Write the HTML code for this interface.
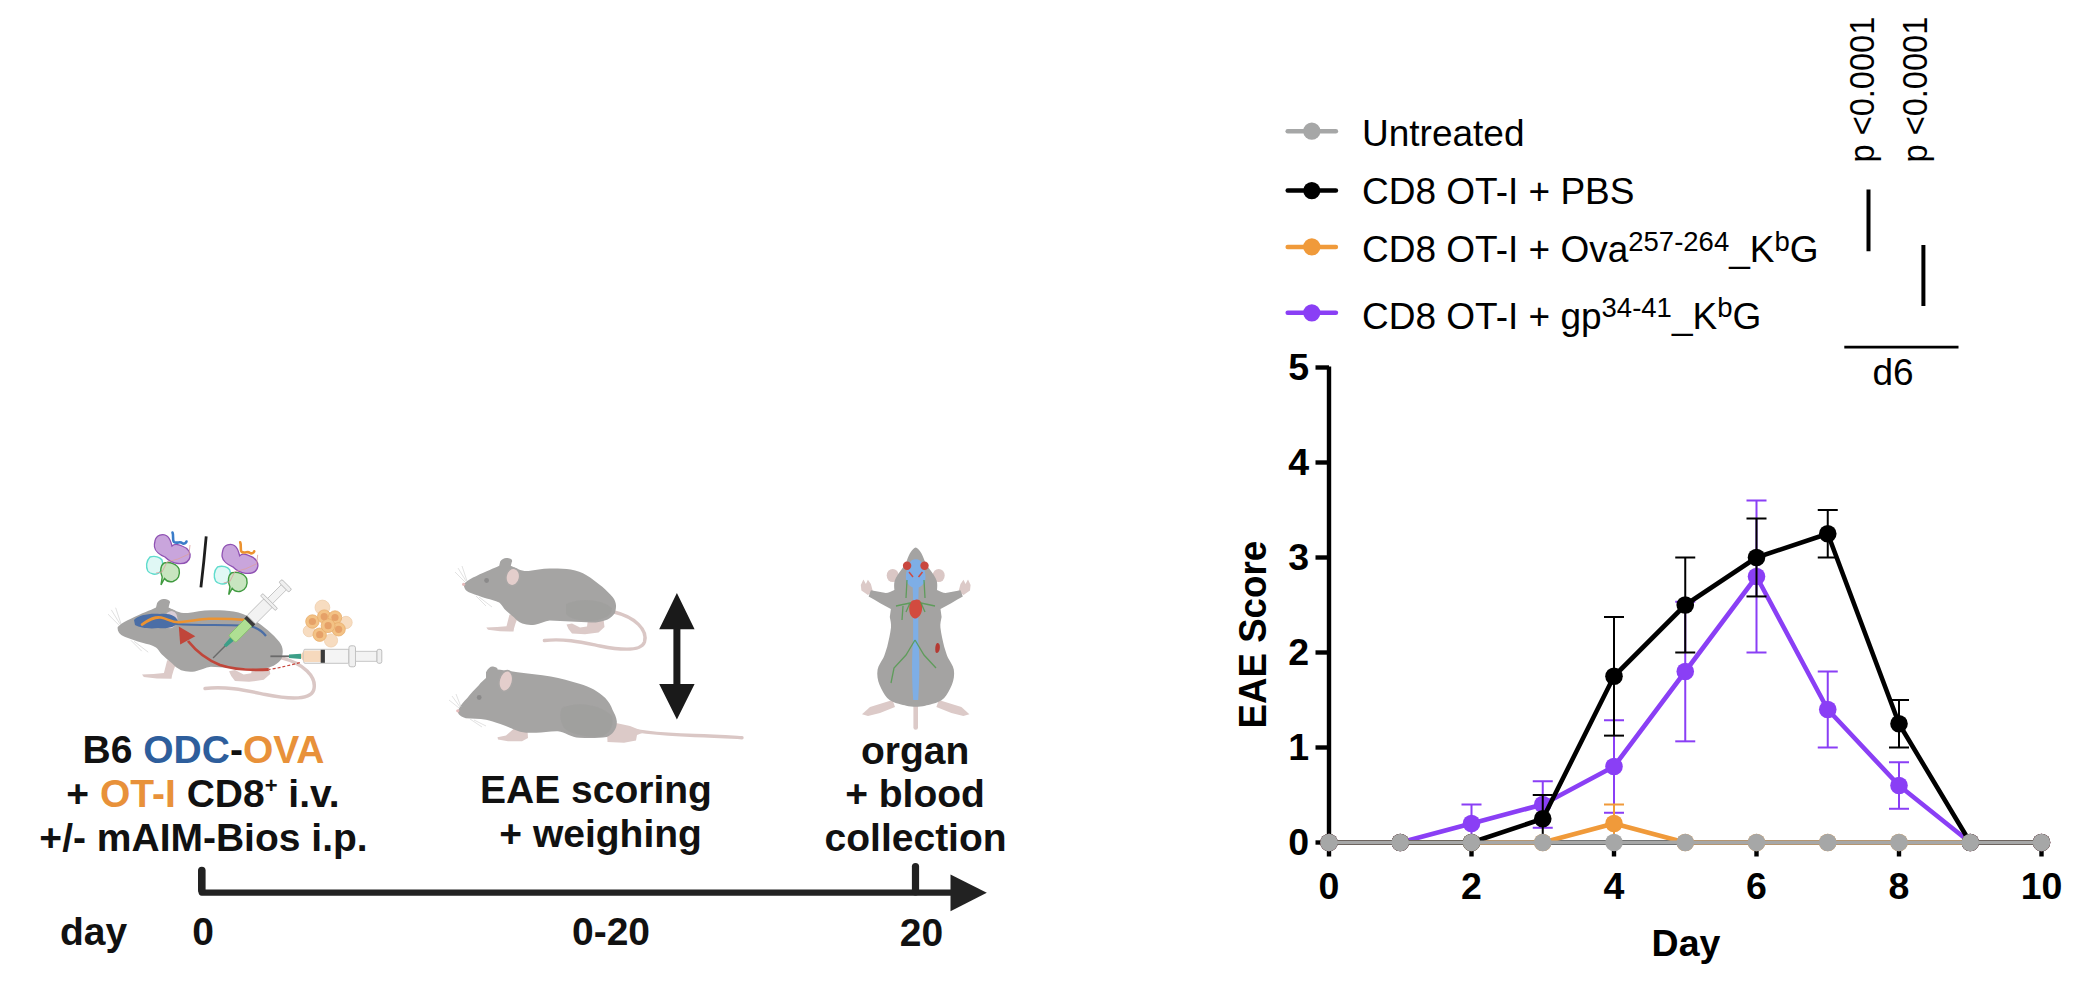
<!DOCTYPE html>
<html lang="en"><head><meta charset="utf-8"><title>EAE score figure</title>
<style>
html,body{margin:0;padding:0;background:#fff;width:2086px;height:998px;overflow:hidden}
svg{display:block}
text{font-family:"Liberation Sans",Arial,Helvetica,sans-serif}
.tb{font-weight:bold;font-size:37.5px;fill:#000}
.lg{font-size:37px;fill:#000}
.lb{font-weight:bold;font-size:39px;fill:#111}
.sig{font-size:32.6px;fill:#000}
</style></head><body>
<svg width="2086" height="998" viewBox="0 0 2086 998">
<rect width="2086" height="998" fill="#fff"/>

<!-- ================= LEFT: experimental timeline ================= -->
<g id="timeline">
<!-- mouse A (middle top) -->
<g id="mouseA">
<path d="M614,612 C635,617 648,630 644.5,642 C641,652 620,650 600,646 C585,643 565,638 544.4,640.5" stroke="#dac7c5" stroke-width="3.4" fill="none" stroke-linecap="round"/>
<path d="M509.5,614.5 L518.5,615.5 L515.5,623.5 L514,628.5 L513.5,631.5 L500,631.3 L488,629.8 L486.3,627.6 L497,627 L506.5,626.3 Z" fill="#dccac8"/>
<path d="M588,619 L603.5,619 L604.5,627 L598.5,632.5 L585,634.3 L572,633.5 L568.5,629 L566.5,624.5 L572,623.5 L580,627.5 L587,626.5 Z" fill="#dccac8"/>
<path d="M463.9,583.7 C468,580 472,578 476,576.3 C481,573.5 486,571.5 489.7,570 C493,568.5 497,567 499.2,565.8 L500.2,561.6 C502,558.5 505,557.5 507.5,558 C511,558.5 513,560 511.8,562 L510.8,565.8 C514,567.5 517,569 520.2,570 C523,571 526,571 528.6,571 C535,570 542,568.5 549.7,568.4 C557,568.3 565,568.5 570.7,569.5 C577,570.5 582,572.5 586.5,575.2 C592,578.5 597,582.5 602.3,586.8 C606.5,590.5 610,594 612.8,597.3 C615,600 616.2,603.5 616,606.8 C615.8,609.5 615.4,611.5 614.9,613.1 C613,616 610.5,618 607.6,619.4 C603,621.5 597,622.5 591.8,622.6 L570.7,621.5 L549.7,620.5 C545,621 540,624 535,624.7 C530,625.3 526,624.8 522.3,623.6 C518.5,622 516,619.5 513.9,617.3 C510,614 507,611.5 504.4,608.9 C502.5,606.5 501,604 499.2,602.6 C495,600.5 491,599.5 486.6,598.4 C481,597 476,595 470.8,593.1 C468,592 466,590.5 465,588.9 C464,587 463.6,585.5 463.9,583.7 Z" fill="#a5a4a3"/>
<path d="M566,604 C582,597 602,600 612,608 C612,615 606,619 592,621 C580,621 570,619 566,614 Z" fill="#9c9b9a" opacity="0.45"/>
<ellipse cx="512.8" cy="577" rx="6.8" ry="8.8" transform="rotate(12 512.8 577)" fill="#e4cecc" stroke="#a8a6a5" stroke-width="1.6"/>
<circle cx="486.6" cy="580.5" r="2.4" fill="#8b8a8a"/>
<circle cx="463.6" cy="584.3" r="1.6" fill="#e3b9b9"/>
<path d="M465,582 L455,572 M466,581 L458,568 M467,581 L462,566 M476,596 L486,606 M479,597 L492,607" stroke="#d6d6d6" stroke-width="0.7" fill="none"/>

</g>

<!-- mouse B (middle bottom) -->
<g id="mouseB">
<path d="M615,726 C630,731 650,734 694.5,735.5 C715,736 730,737 742,737.7" stroke="#dac7c5" stroke-width="3.4" fill="none" stroke-linecap="round"/>
<path d="M607,731 L616,723 L630,726 L645,732 L637,735 L636,740.5 L624,742.7 L607.5,742 Z" fill="#dccac8"/>
<path d="M514,728.5 L527.5,730.5 L528,738 L522,741.3 L508,741.3 L498,739.5 L497.5,737.3 L506,735.5 Z" fill="#dccac8"/>
<path d="M457.9,710.4 C461,705 464,701 467.3,698.1 C471,693 475,689 478.8,685.2 C481,682 484,680 486,678 L486,672.3 C488,668 491,666 493.1,666.5 C496,667 498,668 497.5,669.4 C503,670 510,671 517.6,672.3 C528,673.5 540,675 550.7,676.6 C561,678.5 570,681 579.4,683.8 C585,685.5 590,687.5 593.8,689.5 C598,692 602,695 605.3,698.1 C608.5,701.5 611,705.5 612.5,709.7 C614.5,713.5 616.5,717.5 616.8,721.2 C617,725 616,728.5 614,731.2 C612,734 609.5,736 606.8,737 C598,738.2 588,738 579.4,737.7 C571,737.3 565,732 557.9,731.2 C550,731 543,732.5 536.3,732.7 L526.2,732.7 C522,732.5 518,731.2 514.7,729.8 C509,727.5 505,725.5 500.3,724 C495,722 490,720.5 486,719.7 C479,718.5 472,718.8 465.8,718.3 C462,717 459.5,715.5 458.6,714 C458,712.5 457.8,711.5 457.9,710.4 Z" fill="#a5a4a3"/>
<path d="M562,708 C580,700 602,706 612,716 C614,726 610,734 600,737 C585,737 570,734 564,728 C560,721 559,713 562,708 Z" fill="#9c9b9a" opacity="0.45"/>
<ellipse cx="505.8" cy="681" rx="6.6" ry="10.5" transform="rotate(14 505.8 681)" fill="#e4cecc" stroke="#a8a6a5" stroke-width="1.6"/>
<circle cx="479.2" cy="697.5" r="2.4" fill="#8b8a8a"/>
<circle cx="457.8" cy="710.8" r="1.6" fill="#e3b9b9"/>
<path d="M459,708 L449,700 M460,707 L452,696 M461,707 L456,694 M470,719 L482,727 M474,720 L486,726" stroke="#d6d6d6" stroke-width="0.7" fill="none"/>

</g>

<!-- double arrow -->
<path d="M676.9,593 L694.6,629.2 L680.4,629.2 L680.4,684 L694.6,684 L676.9,719.5 L659.2,684 L673.4,684 L673.4,629.2 L659.2,629.2 Z" fill="#1a1a1a"/>

<!-- mouse C (top view) -->
<g id="mouseC">
<path d="M915.7,705 V727.5" stroke="#dccac8" stroke-width="4.6" stroke-linecap="round"/>
<path d="M892.6,700 L870,707 L862,714.3 L868,716 L880,713 L895,707 Z" fill="#dccac8"/>
<path d="M938.8,700 L961.4,707 L969.4,714.3 L963.4,716 L951.4,713 L936.4,707 Z" fill="#dccac8"/>
<path d="M958.5,591.5 L960.5,584 L963.5,579.8 L965.5,584 L968,579.5 L970.6,585 L970,590.5 L963.5,595 Z" fill="#dccac8"/>
<path d="M872.9,591.5 L870.9,584 L867.9,579.8 L865.9,584 L863.4,579.5 L860.8,585 L861.4,590.5 L867.9,595 Z" fill="#dccac8"/>
<ellipse cx="892.7" cy="575.5" rx="6" ry="6.6" fill="#dac7c5"/>
<ellipse cx="938.7" cy="575.5" rx="6" ry="6.6" fill="#dac7c5"/>
<path d="M915.7,547.4C919.0,548.5 922.0,553.0 924.7,561.0C926.5,565.0 928.0,567.0 929.5,569.0C932.5,573.0 935.5,577.0 936.8,581.0C937.5,584.0 937.3,587.0 937.0,590.0C940.0,591.5 943.0,592.7 945.6,593.1L960.5,590.3L962.8,596.6C955.0,601.0 947.0,606.0 940.5,609.1C940.8,612.0 941.3,614.5 941.6,617.0C941.0,620.0 940.0,624.0 940.4,627.6C941.2,634.0 942.7,641.0 944.2,646.7C945.7,651.0 946.7,655.0 948.1,658.1C950.2,662.0 953.0,665.5 953.8,669.5C954.7,675.0 953.7,680.0 951.9,684.8C949.7,690.0 947.2,694.5 944.2,698.1C940.7,701.5 936.7,703.0 932.8,703.8C929.2,704.8 927.2,705.2 925.2,705.7C922.2,706.3 918.7,706.7 915.7,706.7C912.7,706.7 909.2,706.3 906.2,705.7C904.2,705.2 902.2,704.8 898.6,703.8C894.7,703.0 890.7,701.5 887.2,698.1C884.2,694.5 881.7,690.0 879.5,684.8C877.7,680.0 876.7,675.0 877.6,669.5C878.4,665.5 881.2,662.0 883.3,658.1C884.7,655.0 885.7,651.0 887.2,646.7C888.7,641.0 890.2,634.0 891.0,627.6C891.4,624.0 890.4,620.0 889.8,617.0C890.1,614.5 890.6,612.0 890.9,609.1C884.4,606.0 876.4,601.0 868.6,596.6L870.9,590.3L885.8,593.1C888.4,592.7 891.4,591.5 894.4,590.0C894.1,587.0 893.9,584.0 894.6,581.0C895.9,577.0 898.9,573.0 901.9,569.0C903.4,567.0 904.9,565.0 906.7,561.0C909.4,553.0 912.4,548.5 915.7,547.4Z" fill="#a4a3a2"/>
<path d="M911,561 C913,558.5 918.5,558.5 920.5,561 C923,565 925.5,571 925.5,577 C925.5,582 923,585.5 918.7,587.5 L918.3,600 L918.3,640 C919.6,655 919.8,675 918.2,700 L913.2,700 C911.6,675 911.8,655 913.1,640 L913.1,600 L912.7,587.5 C908.4,585.5 905.9,582 905.9,577 C905.9,571 908.4,565 911,561 Z" fill="#7eaee6"/>
<circle cx="907.1" cy="565.8" r="4.2" fill="#c9473e"/>
<circle cx="924.5" cy="565.8" r="4.2" fill="#c9473e"/>
<path d="M909,572 L913,577 M922.5,572 L918.5,577" stroke="#cf4a40" stroke-width="1.5"/>
<path d="M915,600 C920,598 923,603 922,610 C921,616 917,619 914.5,618.5 C910,617 908.5,611 909.5,605 C910.5,601.5 912,600 915,600 Z" fill="#d24b3f"/>
<path d="M937,643 C939.5,642.5 940.5,646 939.5,650 C938.5,653 936.5,654 935.5,652 C935,649 935,645 937,643 Z" fill="#b53a33"/>
<path d="M907,580 L906,598 M924,580 L925,598 M896,606 L910,603 L906,612 M935,606 L921,603 L925,612 M915,640 L906,655 L894,668 L891,683 M915,640 L924,655 L936,668 M903,606 L902,620" stroke="#4d9a4a" stroke-width="1.3" fill="none" opacity="0.8"/>
</g>

<!-- mouse 1 (left, injected) : same outline as mouse A scaled -->
<g id="mouse1">
<g transform="translate(117.7,626.9) scale(1.085) translate(-463.9,-583.7)">
<path d="M614,612 C635,617 648,630 644.5,642 C641,652 620,650 600,646 C585,643 565,638 544.4,640.5" stroke="#dac7c5" stroke-width="3.2" fill="none" stroke-linecap="round"/>
<path d="M509.5,614.5 L518.5,615.5 L515.5,623.5 L514,628.5 L513.5,631.5 L500,631.3 L488,629.8 L486.3,627.6 L497,627 L506.5,626.3 Z" fill="#dccac8"/>
<path d="M588,619 L603.5,619 L604.5,627 L598.5,632.5 L585,634.3 L572,633.5 L568.5,629 L566.5,624.5 L572,623.5 L580,627.5 L587,626.5 Z" fill="#dccac8"/>
<path d="M463.9,583.7 C468,580 472,578 476,576.3 C481,573.5 486,571.5 489.7,570 C493,568.5 497,567 499.2,565.8 L500.2,561.6 C502,558.5 505,557.5 507.5,558 C511,558.5 513,560 511.8,562 L510.8,565.8 C514,567.5 517,569 520.2,570 C523,571 526,571 528.6,571 C535,570 542,568.5 549.7,568.4 C557,568.3 565,568.5 570.7,569.5 C577,570.5 582,572.5 586.5,575.2 C592,578.5 597,582.5 602.3,586.8 C606.5,590.5 610,594 612.8,597.3 C615,600 616.2,603.5 616,606.8 C615.8,609.5 615.4,611.5 614.9,613.1 C613,616 610.5,618 607.6,619.4 C603,621.5 597,622.5 591.8,622.6 L570.7,621.5 L549.7,620.5 C545,621 540,624 535,624.7 C530,625.3 526,624.8 522.3,623.6 C518.5,622 516,619.5 513.9,617.3 C510,614 507,611.5 504.4,608.9 C502.5,606.5 501,604 499.2,602.6 C495,600.5 491,599.5 486.6,598.4 C481,597 476,595 470.8,593.1 C468,592 466,590.5 465,588.9 C464,587 463.6,585.5 463.9,583.7 Z" fill="#a5a4a3"/>
<ellipse cx="512.8" cy="577" rx="6.8" ry="8.8" transform="rotate(12 512.8 577)" fill="#d9cdd6" stroke="#a8a6a5" stroke-width="1.6"/>
<path d="M465,582 L455,572 M466,581 L458,568 M467,581 L462,566 M476,596 L486,606 M479,597 L492,607" stroke="#d6d6d6" stroke-width="0.7" fill="none"/>

</g>
<!-- brain & spinal cord -->
<path d="M134,620 C138,615 150,613 160,614 C170,613 177,616 178,622 C176,627 168,629 158,628 C150,629 140,628 135,625 Z" fill="#4b6ea6"/>
<path d="M176,624 C200,626 230,624 250,626 C258,628 263,632 266,636" stroke="#4b6ea6" stroke-width="2.2" fill="none"/>
<path d="M142,624.6 C150,619 155,616.5 161,617.5 C168,619 172,622.5 179,622.3 C192,621 200,619 209,618.8 C222,618.5 235,619 246,620" stroke="#ec9331" stroke-width="2.6" fill="none" stroke-linecap="round"/>
<!-- red arrow -->
<path d="M299.8,662.6 C290,665 280,668 268.7,669.5" stroke="#c8463c" stroke-width="1.2" stroke-dasharray="3 2" fill="none"/>
<path d="M268.7,669.5 C250,670.5 232,669 220,665 C205,659 196,651 188,641" stroke="#c0463a" stroke-width="2.8" fill="none"/>
<path d="M178.8,626.4 L195.3,636.2 L180.2,644.6 Z" fill="#c0463a"/>
<!-- syringe 1 (diagonal) -->
<g transform="translate(213.1,658) rotate(-45)">
<path d="M0,0 H18" stroke="#6a6a6a" stroke-width="1.4"/>
<path d="M16.7,-1.6 L26.9,-2.4 L26.9,2.4 L16.7,1.6 Z" fill="#3c9f88"/>
<rect x="26.9" y="-5" width="24" height="10" rx="1.5" fill="#afdf93" stroke="#86c26c" stroke-width="0.9"/>
<rect x="50" y="-6" width="4" height="12" fill="#3a3a3a"/>
<rect x="54" y="-6" width="24" height="12" rx="1" fill="#f2f2f2" stroke="#bdbdbd" stroke-width="0.9"/>
<rect x="77.5" y="-10.5" width="3.2" height="21" rx="1.2" fill="#efefef" stroke="#b8b8b8" stroke-width="0.9"/>
<rect x="80.7" y="-3.6" width="19.5" height="7.2" fill="#f3f3f3" stroke="#c2c2c2" stroke-width="0.9"/>
<rect x="100" y="-7" width="4.2" height="14" rx="1.6" fill="#efefef" stroke="#b8b8b8" stroke-width="0.9"/>
</g>
<!-- syringe 2 (horizontal) -->
<g transform="translate(270.4,656.3)">
<path d="M0,0 H19" stroke="#6a6a6a" stroke-width="1.8"/>
<path d="M18.6,-1.8 L30.6,-2.6 L30.6,2.6 L18.6,1.8 Z" fill="#3c9f88"/>
<path d="M30.6,-1.5 L33.5,-5.7 L33.5,5.7 L30.6,1.5 Z" fill="#f1d2b4"/>
<rect x="33.5" y="-7" width="45" height="14" rx="1" fill="#f4f4f4" stroke="#bdbdbd" stroke-width="0.9"/>
<rect x="33.5" y="-5.7" width="17" height="11.4" fill="#f6d9bd"/>
<rect x="50.3" y="-6.5" width="4.2" height="13" fill="#3a3a3a"/>
<rect x="78.5" y="-10.5" width="6.6" height="21" rx="2" fill="#f0f0f0" stroke="#b8b8b8" stroke-width="0.9"/>
<rect x="85.1" y="-5" width="21.5" height="10" fill="#f3f3f3" stroke="#c2c2c2" stroke-width="0.9"/>
<rect x="106.6" y="-7" width="4.8" height="14" rx="1.8" fill="#efefef" stroke="#b8b8b8" stroke-width="0.9"/>
</g>
<!-- cell cluster -->
<g fill="#f7dcc0" stroke="#efcfae" stroke-width="0.8">
<circle cx="322.4" cy="607.5" r="7.4"/><circle cx="346" cy="622.5" r="6.2"/><circle cx="331" cy="640.5" r="6.6"/><circle cx="309" cy="631" r="5.8"/>
</g>
<g fill="#f3c285" stroke="#e8ad6c" stroke-width="0.8">
<circle cx="312.4" cy="621.5" r="6.7"/><circle cx="324.2" cy="616.6" r="6.7"/><circle cx="335" cy="617.5" r="6.7"/>
<circle cx="319.7" cy="634.7" r="6.7"/><circle cx="338.6" cy="629.3" r="6.7"/><circle cx="328.1" cy="625.7" r="6.9"/>
</g>
<g fill="#e6a168">
<circle cx="312.4" cy="621.5" r="3.6"/><circle cx="324.2" cy="616.6" r="3.6"/><circle cx="335" cy="617.5" r="3.6"/>
<circle cx="319.7" cy="634.7" r="3.6"/><circle cx="338.6" cy="629.3" r="3.6"/><circle cx="328.1" cy="625.7" r="3.6"/>
</g>
</g>

<!-- pMHC complexes -->
<g id="mhc1">
<path d="M150,557 C155,555.5 160,557 162,560 C163.5,564 162.5,570 159,573 C156,575 150,574.5 147.8,571 C145.8,567 146,561 150,557 Z" fill="#e0f8f5" stroke="#5fdccd" stroke-width="1.4"/>
<path d="M164,563 C170,561.5 177,564 179,569 C180.5,575 178,580 173,581.5 C169,582.5 166,580.5 164.5,578.5 L161,584.8 L162.2,577 C160,572 160,566 164,563 Z" fill="#c8e5c0" stroke="#3f9a3f" stroke-width="1.4"/>
<path d="M155,541 C156,535 163,533 167,536 C170,538 171,542 172,546 C174,544 178,544 182,546 C188,548 191,553 190,557 C189,562 184,564 178,563.5 C172,563 168,560 165,557 C160,555 155,551 154.5,547 C154,545 154.5,543 155,541 Z" fill="#c9a5dc" stroke="#8f52b3" stroke-width="1.3"/>
<path d="M172.5,532.5 C174,536 172,540 174,542 C177,544 180,541 182,543 C184,544.5 186,543 186.5,541.5" stroke="#3a7cc9" stroke-width="2.6" fill="none" stroke-linecap="round"/>
<path d="M156,573 L162,572 L167,562 L178,559 L189,554 L190,545" stroke="#dca0a0" stroke-width="0.8" fill="none"/>
</g>
<path d="M206.2,536.3 C205,550 203,570 200.9,587.4" stroke="#1e1e1e" stroke-width="2.8" fill="none"/>
<g id="mhc2" transform="translate(67.7,9.8)">
<path d="M150,557 C155,555.5 160,557 162,560 C163.5,564 162.5,570 159,573 C156,575 150,574.5 147.8,571 C145.8,567 146,561 150,557 Z" fill="#e0f8f5" stroke="#5fdccd" stroke-width="1.4"/>
<path d="M164,563 C170,561.5 177,564 179,569 C180.5,575 178,580 173,581.5 C169,582.5 166,580.5 164.5,578.5 L161,584.8 L162.2,577 C160,572 160,566 164,563 Z" fill="#c8e5c0" stroke="#3f9a3f" stroke-width="1.4"/>
<path d="M155,541 C156,535 163,533 167,536 C170,538 171,542 172,546 C174,544 178,544 182,546 C188,548 191,553 190,557 C189,562 184,564 178,563.5 C172,563 168,560 165,557 C160,555 155,551 154.5,547 C154,545 154.5,543 155,541 Z" fill="#c9a5dc" stroke="#8f52b3" stroke-width="1.3"/>
<path d="M172.5,532.5 C174,536 172,540 174,542 C177,544 180,541 182,543 C184,544.5 186,543 186.5,541.5" stroke="#ec922f" stroke-width="2.6" fill="none" stroke-linecap="round"/>
<path d="M156,573 L162,572 L167,562 L178,559 L189,554 L190,545" stroke="#dca0a0" stroke-width="0.8" fill="none"/>
</g>

<!-- captions -->
<text class="lb" x="203.5" y="763" text-anchor="middle">B6 <tspan fill="#2e5e9c">ODC</tspan>-<tspan fill="#e8913a">OVA</tspan></text>
<text class="lb" x="203" y="807" text-anchor="middle">+ <tspan fill="#e8913a">OT-I</tspan> CD8<tspan font-size="22" dy="-14">+</tspan><tspan dy="14"> i.v.</tspan></text>
<text class="lb" x="203.5" y="851.3" text-anchor="middle">+/- mAIM-Bios i.p.</text>
<text class="lb" x="596" y="803" text-anchor="middle">EAE scoring</text>
<text class="lb" x="600.6" y="847.2" text-anchor="middle">+ weighing</text>
<text class="lb" x="915.2" y="763.5" text-anchor="middle" fill="#000">organ</text>
<text class="lb" x="915" y="807" text-anchor="middle" fill="#000">+ blood</text>
<text class="lb" x="915.6" y="851.2" text-anchor="middle" fill="#000">collection</text>
<!-- axis -->
<path d="M201.7,870.5V892.6H952" stroke="#222" stroke-width="6.2" fill="none" stroke-linecap="round" stroke-linejoin="round"/>
<path d="M201.8,870.6V890" stroke="#222" stroke-width="7.6" fill="none" stroke-linecap="round"/>
<path d="M915.5,866.6V892" stroke="#222" stroke-width="7.2" fill="none" stroke-linecap="round"/>
<path d="M950.5,874.6L986.8,892.7L950.5,911.2Z" fill="#222"/>
<text class="lb" x="93.6" y="944.7" text-anchor="middle">day</text>
<text class="lb" x="203" y="945.3" text-anchor="middle">0</text>
<text class="lb" x="611" y="945.4" text-anchor="middle">0-20</text>
<text class="lb" x="921.5" y="945.6" text-anchor="middle">20</text>
</g>

<!-- ================= RIGHT: EAE score chart ================= -->
<g id="chart">
<path d="M1329,366.5V842.5H2041.5" stroke="#000" stroke-width="4.4" fill="none"/>
<path d="M1315.5,842.5H1329" stroke="#000" stroke-width="4.4"/>
<text x="1309" y="855.1" class="tb" text-anchor="end">0</text>
<path d="M1315.5,747.5H1329" stroke="#000" stroke-width="4.4"/>
<text x="1309" y="760.1" class="tb" text-anchor="end">1</text>
<path d="M1315.5,652.5H1329" stroke="#000" stroke-width="4.4"/>
<text x="1309" y="665.1" class="tb" text-anchor="end">2</text>
<path d="M1315.5,557.5H1329" stroke="#000" stroke-width="4.4"/>
<text x="1309" y="570.1" class="tb" text-anchor="end">3</text>
<path d="M1315.5,462.5H1329" stroke="#000" stroke-width="4.4"/>
<text x="1309" y="475.1" class="tb" text-anchor="end">4</text>
<path d="M1315.5,367.5H1329" stroke="#000" stroke-width="4.4"/>
<text x="1309" y="380.1" class="tb" text-anchor="end">5</text>
<path d="M1329,842.5V856.5" stroke="#000" stroke-width="4.4"/>
<text x="1329" y="899" class="tb" text-anchor="middle">0</text>
<path d="M1471.5,842.5V856.5" stroke="#000" stroke-width="4.4"/>
<text x="1471.5" y="899" class="tb" text-anchor="middle">2</text>
<path d="M1614,842.5V856.5" stroke="#000" stroke-width="4.4"/>
<text x="1614" y="899" class="tb" text-anchor="middle">4</text>
<path d="M1756.5,842.5V856.5" stroke="#000" stroke-width="4.4"/>
<text x="1756.5" y="899" class="tb" text-anchor="middle">6</text>
<path d="M1899,842.5V856.5" stroke="#000" stroke-width="4.4"/>
<text x="1899" y="899" class="tb" text-anchor="middle">8</text>
<path d="M2041.5,842.5V856.5" stroke="#000" stroke-width="4.4"/>
<text x="2041.5" y="899" class="tb" text-anchor="middle">10</text>
<g class="s-purple">
<path d="M1471.5,804.5V842.5M1461.5,804.5H1481.5" stroke="#8a3ff5" stroke-width="2.0" fill="none"/>
<path d="M1542.75,781.23V827.77M1532.75,781.23H1552.75" stroke="#8a3ff5" stroke-width="2.0" fill="none"/>
<path d="M1532.75,827.77H1552.75" stroke="#8a3ff5" stroke-width="2.0" fill="none"/>
<path d="M1614,720.24V812.76M1604,720.24H1624" stroke="#8a3ff5" stroke-width="2.0" fill="none"/>
<path d="M1604,812.76H1624" stroke="#8a3ff5" stroke-width="2.0" fill="none"/>
<path d="M1685.25,601.67V741.33M1675.25,601.67H1695.25" stroke="#8a3ff5" stroke-width="2.0" fill="none"/>
<path d="M1675.25,741.33H1695.25" stroke="#8a3ff5" stroke-width="2.0" fill="none"/>
<path d="M1756.5,500.5V652.5M1746.5,500.5H1766.5" stroke="#8a3ff5" stroke-width="2.0" fill="none"/>
<path d="M1746.5,652.5H1766.5" stroke="#8a3ff5" stroke-width="2.0" fill="none"/>
<path d="M1827.75,671.5V747.5M1817.75,671.5H1837.75" stroke="#8a3ff5" stroke-width="2.0" fill="none"/>
<path d="M1817.75,747.5H1837.75" stroke="#8a3ff5" stroke-width="2.0" fill="none"/>
<path d="M1899,762.23V808.77M1889,762.23H1909" stroke="#8a3ff5" stroke-width="2.0" fill="none"/>
<path d="M1889,808.77H1909" stroke="#8a3ff5" stroke-width="2.0" fill="none"/>
<polyline points="1329,842.5 1400.25,842.5 1471.5,823.5 1542.75,804.5 1614,766.5 1685.25,671.5 1756.5,576.5 1827.75,709.5 1899,785.5 1970.25,842.5 2041.5,842.5" stroke="#8a3ff5" stroke-width="4.6" fill="none" stroke-linejoin="round"/>
<circle cx="1329" cy="842.5" r="8.8" fill="#8a3ff5"/>
<circle cx="1400.25" cy="842.5" r="8.8" fill="#8a3ff5"/>
<circle cx="1471.5" cy="823.5" r="8.8" fill="#8a3ff5"/>
<circle cx="1542.75" cy="804.5" r="8.8" fill="#8a3ff5"/>
<circle cx="1614" cy="766.5" r="8.8" fill="#8a3ff5"/>
<circle cx="1685.25" cy="671.5" r="8.8" fill="#8a3ff5"/>
<circle cx="1756.5" cy="576.5" r="8.8" fill="#8a3ff5"/>
<circle cx="1827.75" cy="709.5" r="8.8" fill="#8a3ff5"/>
<circle cx="1899" cy="785.5" r="8.8" fill="#8a3ff5"/>
<circle cx="1970.25" cy="842.5" r="8.8" fill="#8a3ff5"/>
<circle cx="2041.5" cy="842.5" r="8.8" fill="#8a3ff5"/>
</g>
<g class="s-orange">
<path d="M1614,804.5V842.5M1604,804.5H1624" stroke="#f09a3a" stroke-width="2.0" fill="none"/>
<polyline points="1329,842.5 1400.25,842.5 1471.5,842.5 1542.75,842.5 1614,823.5 1685.25,842.5 1756.5,842.5 1827.75,842.5 1899,842.5 1970.25,842.5 2041.5,842.5" stroke="#f09a3a" stroke-width="4.6" fill="none" stroke-linejoin="round"/>
<circle cx="1329" cy="842.5" r="8.8" fill="#f09a3a"/>
<circle cx="1400.25" cy="842.5" r="8.8" fill="#f09a3a"/>
<circle cx="1471.5" cy="842.5" r="8.8" fill="#f09a3a"/>
<circle cx="1542.75" cy="842.5" r="8.8" fill="#f09a3a"/>
<circle cx="1614" cy="823.5" r="8.8" fill="#f09a3a"/>
<circle cx="1685.25" cy="842.5" r="8.8" fill="#f09a3a"/>
<circle cx="1756.5" cy="842.5" r="8.8" fill="#f09a3a"/>
<circle cx="1827.75" cy="842.5" r="8.8" fill="#f09a3a"/>
<circle cx="1899" cy="842.5" r="8.8" fill="#f09a3a"/>
<circle cx="1970.25" cy="842.5" r="8.8" fill="#f09a3a"/>
<circle cx="2041.5" cy="842.5" r="8.8" fill="#f09a3a"/>
</g>
<g class="s-black">
<path d="M1542.75,795V842.5M1532.75,795H1552.75" stroke="#000" stroke-width="2.0" fill="none"/>
<path d="M1614,616.88V735.62M1604,616.88H1624" stroke="#000" stroke-width="2.0" fill="none"/>
<path d="M1604,735.62H1624" stroke="#000" stroke-width="2.0" fill="none"/>
<path d="M1685.25,557.5V652.5M1675.25,557.5H1695.25" stroke="#000" stroke-width="2.0" fill="none"/>
<path d="M1675.25,652.5H1695.25" stroke="#000" stroke-width="2.0" fill="none"/>
<path d="M1756.5,518.55V596.45M1746.5,518.55H1766.5" stroke="#000" stroke-width="2.0" fill="none"/>
<path d="M1746.5,596.45H1766.5" stroke="#000" stroke-width="2.0" fill="none"/>
<path d="M1827.75,510V557.5M1817.75,510H1837.75" stroke="#000" stroke-width="2.0" fill="none"/>
<path d="M1817.75,557.5H1837.75" stroke="#000" stroke-width="2.0" fill="none"/>
<path d="M1899,700V747.5M1889,700H1909" stroke="#000" stroke-width="2.0" fill="none"/>
<path d="M1889,747.5H1909" stroke="#000" stroke-width="2.0" fill="none"/>
<polyline points="1329,842.5 1400.25,842.5 1471.5,842.5 1542.75,818.75 1614,676.25 1685.25,605 1756.5,557.5 1827.75,533.75 1899,723.75 1970.25,842.5 2041.5,842.5" stroke="#000" stroke-width="4.6" fill="none" stroke-linejoin="round"/>
<circle cx="1329" cy="842.5" r="8.8" fill="#000"/>
<circle cx="1400.25" cy="842.5" r="8.8" fill="#000"/>
<circle cx="1471.5" cy="842.5" r="8.8" fill="#000"/>
<circle cx="1542.75" cy="818.75" r="8.8" fill="#000"/>
<circle cx="1614" cy="676.25" r="8.8" fill="#000"/>
<circle cx="1685.25" cy="605" r="8.8" fill="#000"/>
<circle cx="1756.5" cy="557.5" r="8.8" fill="#000"/>
<circle cx="1827.75" cy="533.75" r="8.8" fill="#000"/>
<circle cx="1899" cy="723.75" r="8.8" fill="#000"/>
<circle cx="1970.25" cy="842.5" r="8.8" fill="#000"/>
<circle cx="2041.5" cy="842.5" r="8.8" fill="#000"/>
</g>
<g class="s-gray">
<polyline points="1329,842.5 1400.25,842.5 1471.5,842.5 1542.75,842.5 1614,842.5 1685.25,842.5 1756.5,842.5 1827.75,842.5 1899,842.5 1970.25,842.5 2041.5,842.5" stroke="#a6a7a7" stroke-width="4.0" fill="none" stroke-linejoin="round"/>
<circle cx="1329" cy="842.5" r="8.8" fill="#a6a7a7"/>
<circle cx="1400.25" cy="842.5" r="8.8" fill="#a6a7a7"/>
<circle cx="1471.5" cy="842.5" r="8.8" fill="#a6a7a7"/>
<circle cx="1542.75" cy="842.5" r="8.8" fill="#a6a7a7"/>
<circle cx="1614" cy="842.5" r="8.8" fill="#a6a7a7"/>
<circle cx="1685.25" cy="842.5" r="8.8" fill="#a6a7a7"/>
<circle cx="1756.5" cy="842.5" r="8.8" fill="#a6a7a7"/>
<circle cx="1827.75" cy="842.5" r="8.8" fill="#a6a7a7"/>
<circle cx="1899" cy="842.5" r="8.8" fill="#a6a7a7"/>
<circle cx="1970.25" cy="842.5" r="8.8" fill="#a6a7a7"/>
<circle cx="2041.5" cy="842.5" r="8.8" fill="#a6a7a7"/>
</g>
<text class="tb" x="1686" y="955.7" text-anchor="middle">Day</text>
<text class="tb" transform="translate(1266,634.7) rotate(-90) scale(0.978,1.02)" text-anchor="middle">EAE Score</text>
</g>

<!-- legend -->
<g id="legend" stroke-linecap="round">
<path d="M1287.7,131.2H1335.9" stroke="#a6a7a7" stroke-width="4.5"/><circle cx="1311.8" cy="131.2" r="8.6" fill="#a6a7a7"/>
<path d="M1287.7,190.6H1335.9" stroke="#000" stroke-width="4.5"/><circle cx="1311.8" cy="190.6" r="8.6" fill="#000"/>
<path d="M1287.7,246.9H1335.9" stroke="#f09a3a" stroke-width="4.5"/><circle cx="1311.8" cy="246.9" r="8.6" fill="#f09a3a"/>
<path d="M1287.7,312.8H1335.9" stroke="#8a3ff5" stroke-width="4.5"/><circle cx="1311.8" cy="312.8" r="8.6" fill="#8a3ff5"/>
</g>
<text class="lg" x="1362" y="145.7">Untreated</text>
<text class="lg" x="1362" y="204.3">CD8 OT-I + PBS</text>
<text class="lg" x="1362" y="262.2">CD8 OT-I + Ova<tspan font-size="27.5" dy="-11.4">257-264</tspan><tspan dy="11.4">_K</tspan><tspan font-size="27.5" dy="-11.4">b</tspan><tspan dy="11.4">G</tspan></text>
<text class="lg" x="1362" y="328.6">CD8 OT-I + gp<tspan font-size="27.5" dy="-11.4">34-41</tspan><tspan dy="11.4">_K</tspan><tspan font-size="27.5" dy="-11.4">b</tspan><tspan dy="11.4">G</tspan></text>

<!-- significance -->
<text class="sig" transform="translate(1873.8,162.5) rotate(-90) scale(1,1.05)">p &lt;0.0001</text>
<text class="sig" transform="translate(1926.8,162.5) rotate(-90) scale(1,1.05)">p &lt;0.0001</text>
<path d="M1868.5,189.6V251.2M1923.4,245V306" stroke="#000" stroke-width="4"/>
<path d="M1844.3,347.1H1958.5" stroke="#000" stroke-width="2.6"/>
<text class="lg" x="1893" y="384.5" text-anchor="middle">d6</text>
</svg>
</body></html>
